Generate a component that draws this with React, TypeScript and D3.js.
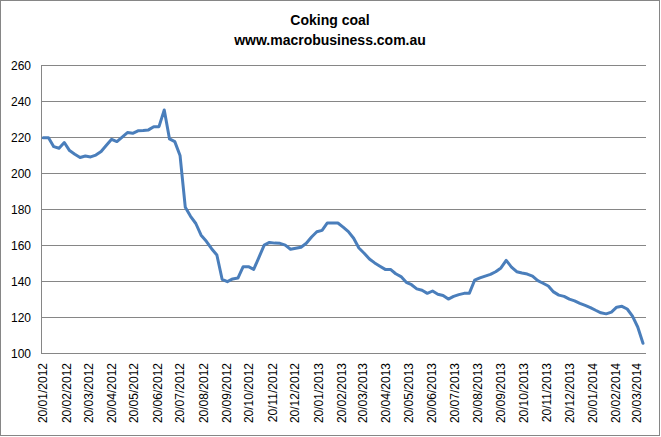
import React from "react";
import * as d3 from "d3";

const title = "Coking coal";
const subtitle = "www.macrobusiness.com.au";

// weekly observations starting 20/01/2012
const startDate = new Date(2012, 0, 20);
const prices: number[] = [
  220.2, 220.2, 215.2, 214.3, 217.5, 213.0, 211.0, 209.2, 210.0, 209.5,
  210.5, 212.5, 216.0, 219.3, 218.0, 220.5, 223.0, 222.6, 224.0, 224.2,
  224.5, 226.3, 226.3, 235.6, 219.5, 218.0, 210.3, 181.5, 176.5, 172.5,
  166.0, 162.6, 158.5, 155.0, 141.5, 140.2, 141.7, 142.2, 148.5, 148.5,
  147.0, 153.7, 160.5, 162.0, 161.6, 161.5, 160.5, 158.2, 158.8, 159.3,
  161.5, 165.0, 167.9, 168.7, 172.8, 172.8, 172.8, 170.5, 168.0, 164.3,
  158.9, 156.0, 152.8, 150.6, 148.8, 147.0, 147.0, 144.6, 143.0, 139.8,
  138.5, 136.2, 135.4, 133.7, 135.0, 133.2, 132.5, 130.5, 132.0, 133.0,
  133.7, 133.8, 141.0, 142.3, 143.3, 144.2, 145.7, 147.8, 152.0, 148.3,
  145.7, 145.0, 144.4, 143.3, 140.8, 139.3, 137.8, 134.5, 132.7, 132.0,
  130.5, 129.5, 128.1, 127.0, 125.8, 124.3, 122.9, 122.3, 123.3, 126.0,
  126.5, 125.0, 121.0, 115.0, 106.0,
];

const yTicks: number[] = [100, 120, 140, 160, 180, 200, 220, 240, 260];
const xTickDates: Date[] = d3.range(27).map((m) => new Date(2012, m, 20));

const W = 661;
const H = 437;
const plot = { left: 41, right: 646, top: 66, bottom: 354 };

export default function App() {
  const data = prices.map((v, i) => ({
    date: d3.timeDay.offset(startDate, i * 7),
    value: v,
  }));

  const x = d3
    .scaleTime()
    .domain([new Date(2012, 0, 17), new Date(2014, 3, 1)])
    .range([plot.left, plot.right]);
  const y = d3.scaleLinear().domain([100, 260]).range([plot.bottom, plot.top]);

  const line = d3
    .line<{ date: Date; value: number }>()
    .x((d) => x(d.date))
    .y((d) => y(d.value));

  const fmt = d3.timeFormat("%d/%m/%Y");
  const font = "'Liberation Sans', Arial, sans-serif";
  const crisp = (v: number) => Math.round(v) + 0.5;

  return (
    <svg
      width={W}
      height={H}
      style={{ position: "absolute", left: 0, top: 0, background: "#fff" }}
    >
      <rect x={0.5} y={0.5} width={659} height={435} fill="#fff" stroke="#868686" />
      <text
        x={330}
        y={25}
        textAnchor="middle"
        fontFamily={font}
        fontWeight="bold"
        fontSize={14}
        fill="#000"
      >
        {title}
      </text>
      <text
        x={330}
        y={45}
        textAnchor="middle"
        fontFamily={font}
        fontWeight="bold"
        fontSize={14}
        fill="#000"
      >
        {subtitle}
      </text>
      {yTicks.map((t) => (
        <g key={t}>
          <line
            x1={plot.left}
            x2={plot.right}
            y1={crisp(y(t)) - 1}
            y2={crisp(y(t)) - 1}
            stroke="#868686"
            strokeWidth={1}
          />
          <text
            x={31}
            y={y(t)}
            dy="0.35em"
            textAnchor="end"
            fontFamily={font}
            fontSize={12}
            fill="#000"
          >
            {t}
          </text>
        </g>
      ))}
      <line
        x1={crisp(plot.left)}
        x2={crisp(plot.left)}
        y1={plot.top - 1}
        y2={plot.bottom}
        stroke="#868686"
      />
      {xTickDates.map((d, i) => (
        <text
          key={i}
          transform={`translate(${x(d)},${plot.bottom}) rotate(-90)`}
          x={-9}
          dy="0.35em"
          textAnchor="end"
          fontFamily={font}
          fontSize={12}
          fill="#000"
        >
          {fmt(d)}
        </text>
      ))}
      <path
        d={line(data) || ""}
        fill="none"
        stroke="#4A7EBB"
        strokeWidth={3}
        strokeLinejoin="round"
        strokeLinecap="round"
      />
    </svg>
  );
}
